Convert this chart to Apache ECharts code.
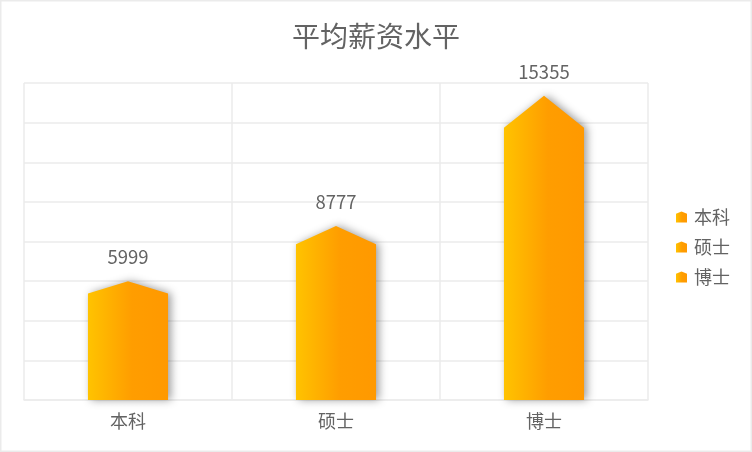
<!DOCTYPE html>
<html>
<head>
<meta charset="utf-8">
<script src="https://cdn.jsdelivr.net/npm/echarts@6/dist/echarts.min.js"></script>
<style>
html,body{margin:0;padding:0;background:#fff;}
#main{width:752px;height:452px;}
</style>
</head>
<body>
<div id="main"></div>
<script>
var categories = ['本科', '硕士', '博士'];
var values = [5999, 8777, 15355];
var yTicks = [0, 2000, 4000, 6000, 8000, 10000, 12000, 14000, 16000];

var FONT = '"Noto Sans CJK SC", "Noto Sans", sans-serif';
var TEXT = '#636363';
var GRID = '#EBEBEB';

function grad() {
  return new echarts.graphic.LinearGradient(0, 0, 1, 0, [
    { offset: 0, color: '#FFC300' },
    { offset: 0.55, color: '#FF9D00' },
    { offset: 1, color: '#FF9900' }
  ]);
}

function renderHouse(params, api) {
  var idx = api.value(0);
  var val = api.value(1);
  var top = api.coord([idx, val]);
  var base = api.coord([idx, 0]);
  var w = api.size([1, 0])[0] * 0.385;
  var h = base[1] - top[1];
  var shoulder = top[1] + h * 0.105;
  var x0 = top[0] - w / 2, x1 = top[0] + w / 2;
  return {
    type: 'group',
    children: [
      {
        type: 'polygon',
        shape: { points: [[x0, base[1]], [x0, shoulder], [top[0], top[1]], [x1, shoulder], [x1, base[1]]] },
        style: {
          fill: grad(),
          shadowBlur: 9,
          shadowColor: 'rgba(0,0,0,0.38)',
          shadowOffsetX: 3,
          shadowOffsetY: 0
        }
      },
      {
        type: 'text',
        style: {
          text: String(val),
          x: top[0],
          y: top[1] - 24,
          align: 'center',
          verticalAlign: 'middle',
          fill: TEXT,
          font: '18.5px ' + FONT
        }
      }
    ]
  };
}

var series = categories.map(function (name, i) {
  return {
    name: name,
    type: 'custom',
    renderItem: renderHouse,
    encode: { x: 0, y: 1 },
    itemStyle: { color: grad() },
    data: [[i, values[i]]]
  };
});

var chart = echarts.init(document.getElementById('main'), null, { renderer: 'canvas' });
chart.setOption({
  animation: false,
  backgroundColor: '#ffffff',
  title: {
    text: '平均薪资水平',
    left: 'center',
    top: 17,
    textStyle: { fontFamily: FONT, fontSize: 28, fontWeight: 'normal', color: TEXT }
  },
  legend: {
    orient: 'vertical',
    left: 671,
    top: 203,
    itemWidth: 11,
    itemHeight: 11,
    itemGap: 12,
    icon: 'path://M0,2 L5,0 L10,2 L10,10 L0,10 Z',
    textStyle: { fontFamily: FONT, fontSize: 18, color: TEXT, padding: [0, 0, 0, 2] },
    data: categories.map(function (c) {
      return { name: c, itemStyle: { color: grad() } };
    })
  },
  grid: { left: 24, right: 104, top: 83, bottom: 52, containLabel: false },
  xAxis: {
    type: 'category',
    data: categories,
    axisLine: { show: true, lineStyle: { color: GRID, width: 1.5 } },
    axisTick: { show: false },
    splitLine: { show: true, interval: 0, lineStyle: { color: GRID, width: 1.5 } },
    axisLabel: { fontFamily: FONT, fontSize: 18, color: TEXT, margin: 12 }
  },
  yAxis: {
    type: 'value',
    min: yTicks[0],
    max: yTicks[yTicks.length - 1],
    interval: yTicks[1] - yTicks[0],
    axisLine: { show: false },
    axisTick: { show: false },
    axisLabel: { show: false },
    splitLine: { show: true, lineStyle: { color: GRID, width: 1.5 } }
  },
  graphic: [{
    type: 'rect',
    shape: { x: 0.75, y: 0.75, width: 750.5, height: 450.5 },
    style: { fill: null, stroke: '#EBEBEB', lineWidth: 1.5 },
    silent: true
  }],
  series: series
});
</script>
</body>
</html>
